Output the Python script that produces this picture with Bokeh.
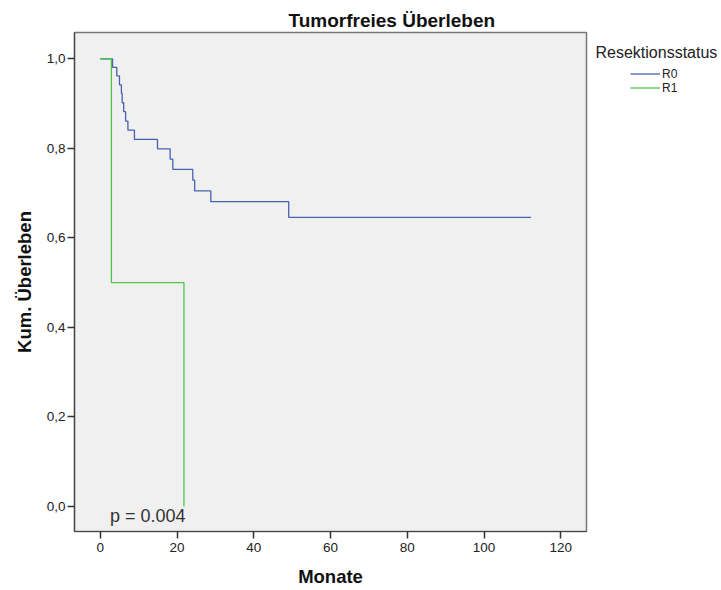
from bokeh.plotting import figure
from bokeh.layouts import row
from bokeh.models import Label, FixedTicker, Range1d, Legend, LegendItem
from bokeh.embed import file_html
from bokeh.resources import INLINE

# Kaplan-Meier data (months, cumulative survival)
r0_months = [0, 3.2, 4.3, 5.0, 5.5, 5.7, 6.1, 6.6, 7.2, 8.9, 14.9, 18.2, 18.9, 24.1, 24.6, 28.8, 49.1, 112.2]
r0_surv = [1.0, 0.981, 0.962, 0.942, 0.923, 0.902, 0.882, 0.861, 0.841, 0.820, 0.799, 0.776, 0.753, 0.729, 0.705, 0.681, 0.646, 0.646]
r1_months = [0, 2.9, 21.8]
r1_surv = [1.0, 0.5, 0.0]

x_ticks = [0, 20, 40, 60, 80, 100, 120]
y_ticks = [0.0, 0.2, 0.4, 0.6, 0.8, 1.0]
y_tick_labels = ["0,0", "0,2", "0,4", "0,6", "0,8", "1,0"]
series_names = ["R0", "R1"]
series_colors = ["#4661b0", "#4cc44c"]

FONT = "Liberation Sans"

p = figure(width=588, height=590, output_backend="svg", toolbar_location=None,
           x_range=Range1d(-6.72, 126.7), y_range=Range1d(-0.0559, 1.059),
           min_border_left=74, min_border_right=2, min_border_top=32, min_border_bottom=59,
           title="Tumorfreies Überleben",
           x_axis_label="Monate", y_axis_label="Kum. Überleben")
p.background_fill_color = "#f0f0f0"
p.border_fill_color = "white"
p.outline_line_color = "#777777"
p.outline_line_width = 1.5
p.grid.visible = False

p.title.align = "left"
p.title.offset = 214
p.title.text_font = FONT
p.title.text_font_size = "19px"
p.title.text_font_style = "bold"
p.title.text_color = "#111111"
p.title.standoff = 3

p.step(r0_months, r0_surv, mode="after", line_color=series_colors[0], line_width=1.3)
p.step(r1_months, r1_surv, mode="after", line_color=series_colors[1], line_width=1.3)

for ax in (p.xaxis[0], p.yaxis[0]):
    ax.axis_line_color = "#444444"
    ax.axis_line_width = 1.2
    ax.major_tick_line_color = "#333333"
    ax.major_tick_line_width = 1.5
    ax.major_tick_out = 7
    ax.major_tick_in = 0
    ax.minor_tick_line_color = None
    ax.major_label_text_font = FONT
    ax.major_label_text_font_size = "13.5px"
    ax.major_label_text_color = "#222222"
    ax.axis_label_text_font = FONT
    ax.axis_label_text_font_size = "18.5px"
    ax.axis_label_text_font_style = "bold"
    ax.axis_label_text_color = "#111111"

p.xaxis.ticker = FixedTicker(ticks=x_ticks)
p.yaxis.ticker = FixedTicker(ticks=y_ticks)
p.yaxis.major_label_overrides = {t: l for t, l in zip(y_ticks, y_tick_labels)}
p.xaxis.major_label_standoff = 4
p.yaxis.major_label_standoff = 2
p.xaxis.axis_label_standoff = 11
p.yaxis.axis_label_standoff = 9

p.add_layout(Label(x=2.5, y=-0.022, text="p = 0.004", text_font=FONT, text_font_size="18px",
                   text_color="#333333", text_baseline="middle"))

# Legend panel: separate figure to the right of the plot (its frame aligns with the plot frame).
# Its data ranges lie far away from the data, so its legend-carrying renderers stay off screen.
lw, lh = 133, 590
q = figure(width=lw, height=lh, output_backend="svg", toolbar_location=None,
           x_range=Range1d(1000, 1000 + lw), y_range=Range1d(1000, 1000 + lh),
           min_border=0, x_axis_location=None, y_axis_location=None)
q.outline_line_color = None
q.background_fill_color = "white"
q.border_fill_color = "white"
q.grid.visible = False

q.add_layout(Label(x=7, y=479, x_units="screen", y_units="screen", text="Resektionsstatus",
                   text_font=FONT, text_font_size="16px", text_color="#222222",
                   text_baseline="middle"))

leg_r0 = q.step(r0_months, r0_surv, mode="after", line_color=series_colors[0], line_width=1.3)
leg_r1 = q.step(r1_months, r1_surv, mode="after", line_color=series_colors[1], line_width=1.3)
legend = Legend(items=[LegendItem(label=series_names[0], renderers=[leg_r0]),
                       LegendItem(label=series_names[1], renderers=[leg_r1])],
                location=(42, 436.5), margin=0, padding=0, spacing=0,
                glyph_width=30, glyph_height=13, label_height=13, label_standoff=2,
                border_line_color=None, background_fill_alpha=0)
legend.label_text_font = FONT
legend.label_text_font_size = "12px"
legend.label_text_color = "#222222"
q.add_layout(legend)

layout = row(p, q, spacing=0)
open("out.html", "w").write(file_html(layout, INLINE))
